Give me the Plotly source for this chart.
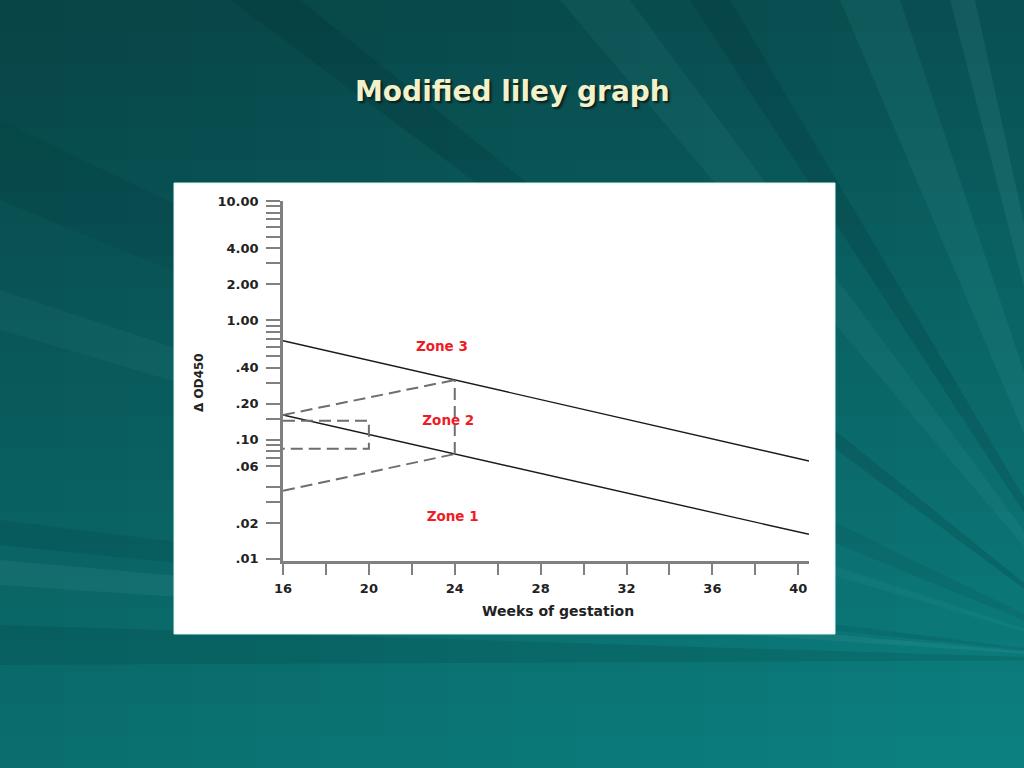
import plotly.graph_objects as go

# ---------------- data ----------------
boundary_weeks = [16, 40.5]
upper_boundary = [0.675, 0.0662]      # Zone 3 / Zone 2 boundary
lower_boundary = [0.1607, 0.01607]    # Zone 2 / Zone 1 boundary

dash_weeks = [16, 20, 24]
dash_upper = [0.1607, 0.2265, 0.316]
dash_lower = [0.0373, 0.0535, 0.0757]

vert_weeks = [24, 24]
vert_vals = [0.0757, 0.316]

box_weeks = [16, 20, 20, 16]
box_vals = [0.144, 0.144, 0.0839, 0.0839]

zone_labels = ["Zone 3", "Zone 2", "Zone 1"]
zone_weeks = [23.4, 23.7, 23.9]
zone_vals = [0.586, 0.1406, 0.0220]

x_tickvals = [16, 18, 20, 22, 24, 26, 28, 30, 32, 34, 36, 38, 40]
x_ticktext = ["16", "", "20", "", "24", "", "28", "", "32", "", "36", "", "40"]

y_tickvals = [10, 9, 8, 7, 6, 5, 4, 3, 2, 1, 0.9, 0.8, 0.7, 0.6, 0.5, 0.4, 0.3,
              0.2, 0.15, 0.1, 0.09, 0.08, 0.07, 0.06, 0.04, 0.03, 0.02, 0.01]
y_ticktext = ["10.00", "", "", "", "", "", "4.00", "", "2.00", "1.00", "", "", "", "", "",
              ".40", "", ".20", "", ".10", "", "", "", ".06", "", "", ".02", ".01"]

title_text = "Modified liley graph"
x_title = "Weeks of gestation"
y_title = "Δ OD450"

# ---------------- geometry helpers (pixel -> paper) ----------------
W, H = 1024, 768
L, R, T, B = 283, 809, 201, 561


def px(x):
    return (x - L) / (R - L)


def py(y):
    return (B - y) / (B - T)


fig = go.Figure()

solid = dict(color="#1a1a1a", width=1.4)
dashed = dict(color="#6e6e6e", width=2, dash="12px,6px")

fig.add_trace(go.Scatter(x=boundary_weeks, y=upper_boundary, mode="lines", line=solid, hoverinfo="skip"))
fig.add_trace(go.Scatter(x=boundary_weeks, y=lower_boundary, mode="lines", line=solid, hoverinfo="skip"))
fig.add_trace(go.Scatter(x=dash_weeks, y=dash_upper, mode="lines", line=dashed, hoverinfo="skip"))
fig.add_trace(go.Scatter(x=dash_weeks, y=dash_lower, mode="lines", line=dashed, hoverinfo="skip"))
fig.add_trace(go.Scatter(x=vert_weeks, y=vert_vals, mode="lines", line=dashed, hoverinfo="skip"))
fig.add_trace(go.Scatter(x=box_weeks, y=box_vals, mode="lines", line=dashed, hoverinfo="skip"))
fig.add_trace(go.Scatter(x=zone_weeks, y=zone_vals, mode="text", text=zone_labels,
                         textfont=dict(family="DejaVu Sans", size=13.5, color="#ee1c25", weight="bold"),
                         hoverinfo="skip"))

# ---------------- background: opaque 2-D gradient grid ----------------
shapes = []
top_c = (9, 80, 82)
bot_c = (12, 128, 128)
nrow, ncol = 24, 16
for i in range(nrow):
    t = i / (nrow - 1)
    base = [top_c[k] + (bot_c[k] - top_c[k]) * t for k in range(3)]
    y0 = H * i / nrow
    y1 = H * (i + 1) / nrow + 1
    for j in range(ncol):
        s = 0.86 + 0.14 * j / (ncol - 1)   # darker towards the left
        c = tuple(int(round(v * s)) for v in base)
        x0 = W * j / ncol
        x1 = W * (j + 1) / ncol + 1
        shapes.append(dict(type="rect", xref="paper", yref="paper", layer="below",
                           x0=px(x0), x1=px(x1), y0=py(y1), y1=py(y0),
                           line=dict(width=0), fillcolor="rgb(%d,%d,%d)" % c))

# radial streaks from a point at right
cx, cy = 1120, 660
rays = [
    ((230, 0), (300, 0), "rgba(0,30,35,0.14)"),
    ((560, 0), (630, 0), "rgba(120,220,220,0.06)"),
    ((690, 0), (730, 0), "rgba(0,30,35,0.14)"),
    ((840, 0), (900, 0), "rgba(120,220,220,0.07)"),
    ((950, 0), (975, 0), "rgba(150,230,230,0.08)"),
    ((0, 120), (0, 200), "rgba(0,30,35,0.08)"),
    ((0, 290), (0, 330), "rgba(120,220,220,0.05)"),
    ((0, 520), (0, 545), "rgba(0,30,35,0.10)"),
    ((0, 560), (0, 585), "rgba(150,230,230,0.07)"),
    ((0, 625), (0, 665), "rgba(0,30,35,0.12)"),
    ((1024, 560), (1024, 610), "rgba(150,230,230,0.07)"),
]
for (ax, ay), (bx, by), col in rays:
    path = "M %f,%f L %f,%f L %f,%f Z" % (px(cx), py(cy), px(ax), py(ay), px(bx), py(by))
    shapes.append(dict(type="path", xref="paper", yref="paper", layer="below",
                       path=path, line=dict(width=0), fillcolor=col))

# white chart panel
shapes.append(dict(type="rect", xref="paper", yref="paper", layer="below",
                   x0=px(174), x1=px(835), y0=py(634), y1=py(183),
                   line=dict(width=1, color="#d8f4f4"), fillcolor="white"))

annotations = [
    dict(text=title_text, xref="paper", yref="paper", x=px(512), y=py(92),
         xanchor="center", yanchor="middle", showarrow=False,
         font=dict(family="DejaVu Sans", size=28, color="#f3f1c9", weight="bold",
                   shadow="2px 2px 2px #0a1e1e")),
    dict(text=x_title, xref="paper", yref="paper", x=px(558), y=py(611),
         xanchor="center", yanchor="middle", showarrow=False,
         font=dict(family="DejaVu Sans", size=14, color="#222222", weight="bold")),
    dict(text=y_title, xref="paper", yref="paper", x=px(199), y=py(383),
         xanchor="center", yanchor="middle", showarrow=False, textangle=-90,
         font=dict(family="DejaVu Sans", size=12, color="#222222", weight="bold")),
]

axis_color = "#808080"
tick_font = dict(family="DejaVu Sans", size=13, color="#222222", weight="bold")

fig.update_layout(
    width=W, height=H, autosize=False,
    margin=dict(l=L, r=W - R, t=T, b=H - B, pad=0),
    paper_bgcolor="rgb(12,100,102)",
    plot_bgcolor="rgba(0,0,0,0)",
    showlegend=False,
    shapes=shapes,
    annotations=annotations,
    xaxis=dict(range=[16, 40.5], tickvals=x_tickvals, ticktext=x_ticktext,
               showgrid=False, zeroline=False, showline=True, linecolor=axis_color, linewidth=2.5,
               ticks="outside", ticklen=11, tickwidth=2, tickcolor=axis_color,
               tickfont=tick_font, ticklabelstandoff=3),
    yaxis=dict(type="log", range=[-2.0176, 1.0], tickvals=y_tickvals, ticktext=y_ticktext,
               showgrid=False, zeroline=False, showline=True, linecolor=axis_color, linewidth=2.5,
               ticks="outside", ticklen=14, tickwidth=2, tickcolor=axis_color,
               tickfont=tick_font, ticklabelstandoff=5),
)

fig.write_html("out.html", config={"displayModeBar": False},
               post_script="document.body.style.margin='0';")
